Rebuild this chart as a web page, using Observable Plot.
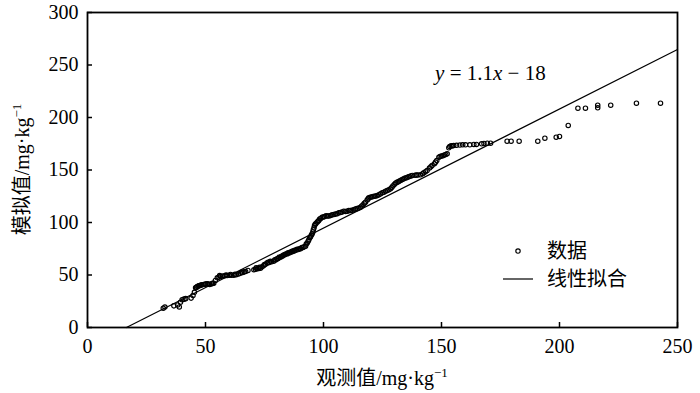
<!DOCTYPE html>
<html><head><meta charset="utf-8">
<script src="https://cdn.jsdelivr.net/npm/d3@7"></script>
<script src="https://cdn.jsdelivr.net/npm/@observablehq/plot@0.6"></script>
<style>body{margin:0;background:#fff} svg{display:block}</style>
</head><body><div id="chart"></div>
<script>
// observed (x) and simulated (y) values, mg·kg-1
const observed = [32.1,32.8,36.6,38.2,38.9,39.4,40.1,40.9,41.6,43.9,44.7,45.3,45.8,46.5,47.0,47.6,48.4,49.3,50.2,50.7,51.8,52.6,53.5,54.2,55.0,55.7,56.4,57.3,58.2,59.2,60.1,61.0,62.0,63.0,64.0,64.8,65.8,67.0,68.0,
70.5,71.2,71.9,72.6,73.3,74.0,74.7,75.4,76.1,77.0,78.0,78.9,79.9,80.8,81.8,82.7,83.6,84.6,85.5,86.5,87.4,88.3,89.3,90.3,91.3,92.4,93.1,93.8,94.5,95.2,95.7,96.2,96.8,97.3,98.0,98.7,99.4,100.5,101.7,103.0,104.4,105.8,107.2,108.6,110.0,111.4,112.8,114.2,115.7,116.8,117.8,118.5,119.2,120.4,121.6,122.8,124.2,125.6,127.0,128.4,129.4,130.5,131.7,132.8,134.0,135.2,136.4,137.6,138.8,140.0,141.1,142.5,143.9,144.9,146.0,147.0,148.0,148.9,150.0,151.2,152.4,153.1,154.1,155.2,156.4,157.8,159.0,160.2,163.7,164.8,168.0,169.4,170.8,
177.8,179.5,182.9,190.8,193.8,198.6,200.0,203.7,207.8,211.0,216.2,216.2,221.7,232.6,242.8,
46.2,47.3,48.0,49.8,51.2,53.0,56.0,58.7,60.6,62.5,65.3,66.4,
71.5,72.9,75.0,76.5,77.5,79.4,80.3,81.2,82.2,83.1,84.0,85.0,86.0,86.9,87.8,88.8,89.8,90.8,91.8,92.7,93.5,94.2,94.9,95.5,96.0,96.5,97.7,98.4,99.9,101.1,102.3,103.7,105.1,106.5,107.9,109.3,110.7,112.1,113.5,115.0,116.2,117.3,118.9,119.8,121.0,122.2,123.5,124.9,126.3,127.7,128.9,130.0,131.1,132.2,133.4,134.6,135.8,137.0,139.4,142.0,143.2,145.5,147.5,149.4,150.6,151.8,153.5,154.7,162.0,167.0];
const simulated = [18.4,19.5,20.6,21.5,19.6,24.1,26.5,27.0,27.5,28.0,30.5,33.5,37.8,39.0,39.5,40.0,40.6,41.0,41.4,41.6,41.0,41.6,42.2,44.8,47.3,48.0,48.6,49.0,49.3,49.5,49.7,49.8,49.8,50.3,51.0,51.7,52.5,53.3,54.3,
55.0,55.5,55.9,56.2,56.5,57.8,59.0,60.2,61.3,62.0,62.6,63.2,64.5,65.8,67.0,68.0,69.2,70.2,71.0,71.9,72.7,73.5,74.2,75.0,76.2,77.5,80.5,83.5,86.4,89.2,93.0,97.1,99.0,100.3,102.0,103.6,105.0,105.6,106.1,106.7,107.6,108.3,109.5,110.8,110.8,111.5,112.1,113.2,114.6,117.0,119.3,121.4,123.5,124.2,125.0,125.7,127.3,128.9,130.5,132.1,134.8,137.4,138.8,140.2,141.6,142.7,143.8,144.8,145.0,145.2,145.4,147.4,149.5,151.9,154.3,156.0,159.0,162.2,163.3,164.3,165.4,171.1,173.0,173.3,173.5,173.8,174.0,174.0,174.3,174.3,175.3,175.5,175.5,
177.4,177.4,177.4,177.4,180.3,181.2,182.0,192.4,208.9,208.9,211.7,209.2,211.7,213.6,213.6,
38.2,39.8,40.2,41.2,41.4,42.0,49.5,50.0,50.5,50.8,52.6,53.0,
56.8,57.3,59.9,62.2,63.0,64.4,65.5,66.8,67.9,69.0,70.0,71.2,71.9,72.9,73.6,74.5,75.0,76.2,77.0,79.5,82.2,85.5,88.0,91.0,95.0,98.3,101.2,103.4,105.3,106.5,106.2,107.4,108.0,109.2,110.0,110.5,111.3,111.6,112.8,113.8,115.8,118.4,122.5,124.0,124.8,125.2,126.5,128.3,129.8,131.2,133.4,136.2,138.2,139.6,141.0,142.3,143.4,144.3,145.2,146.5,148.4,153.0,157.5,162.8,163.6,164.8,172.4,173.0,174.0,175.0];
const xTicks = [0,50,100,150,200,250];
const yTicks = [0,50,100,150,200,250,300];
const fitSlope = 1.134, fitIntercept = -18.7;
const fitLabel = ["y", " = 1.1", "x", " \u2212 18"];
const legendLabels = ["数据", "线性拟合"];
const xTitle = ["观测值/mg·kg", "\u22121"];
const yTitle = ["模拟值/mg·kg", "\u22121"];

const points = observed.map((x, i) => ({x, y: simulated[i]}));
const xEnd = 250;
const fitLine = [-fitIntercept / fitSlope, xEnd].map(x => ({x, y: fitSlope * x + fitIntercept}));

const font = "'Liberation Serif','Times New Roman','Noto Sans CJK SC',serif";
const chart = Plot.plot({
  width: 700, height: 393,
  marginLeft: 87, marginRight: 23, marginTop: 12, marginBottom: 66,
  style: {fontFamily: font, fontSize: "20px", color: "#000", background: "#fff"},
  x: {domain: [0, 250]},
  y: {domain: [0, 300]},
  marks: [
    Plot.axisX({ticks: xTicks, tickSize: -5, tickPadding: 16, label: null, strokeWidth: 1.5}),
    Plot.axisY({ticks: yTicks, tickSize: -5, tickPadding: 14, label: null, strokeWidth: 1.5}),
    Plot.line(fitLine, {x: "x", y: "y", stroke: "#000", strokeWidth: 1.2}),
    Plot.dot(points, {x: "x", y: "y", r: 2.2, stroke: "#000", strokeWidth: 1.15, fill: "none"}),
    Plot.frame({stroke: "#000", strokeWidth: 1.8})
  ]
});
document.getElementById("chart").appendChild(chart);

const svg = d3.select(chart);
const sx = chart.scale("x"), sy = chart.scale("y");
const g = svg.append("g").attr("font-family", font).attr("fill", "#000").attr("text-anchor", "start");
// equation
const eq = g.append("text").attr("x", sx.apply(147.5)).attr("y", sy.apply(235)).attr("font-size", 21);
fitLabel.forEach((t, i) => eq.append("tspan").attr("font-style", i % 2 === 0 ? "italic" : "normal").text(t));
// legend
const lx = 518, ly = 251;
g.append("circle").attr("cx", lx).attr("cy", ly).attr("r", 2.2).attr("fill", "none").attr("stroke", "#000").attr("stroke-width", 1.15);
g.append("line").attr("x1", lx - 15).attr("x2", lx + 15).attr("y1", ly + 28).attr("y2", ly + 28).attr("stroke", "#000").attr("stroke-width", 1.2);
legendLabels.forEach((t, i) => g.append("text").attr("x", lx + 29).attr("y", ly + 28 * i).attr("dy", "0.35em").attr("font-size", 20).text(t));
// axis titles
const cx = (87 + 677) / 2, cy = (12 + 327) / 2;
const xt = g.append("text").attr("x", cx).attr("y", 385).attr("text-anchor", "middle").attr("font-size", 20);
xt.append("tspan").text(xTitle[0]);
xt.append("tspan").attr("dy", -8).attr("font-size", 13).text(xTitle[1]);
const yt = g.append("text").attr("transform", `translate(29,${cy}) rotate(-90)`).attr("text-anchor", "middle").attr("font-size", 20);
yt.append("tspan").text(yTitle[0]);
yt.append("tspan").attr("dy", -8).attr("font-size", 13).text(yTitle[1]);
</script>
</body></html>
